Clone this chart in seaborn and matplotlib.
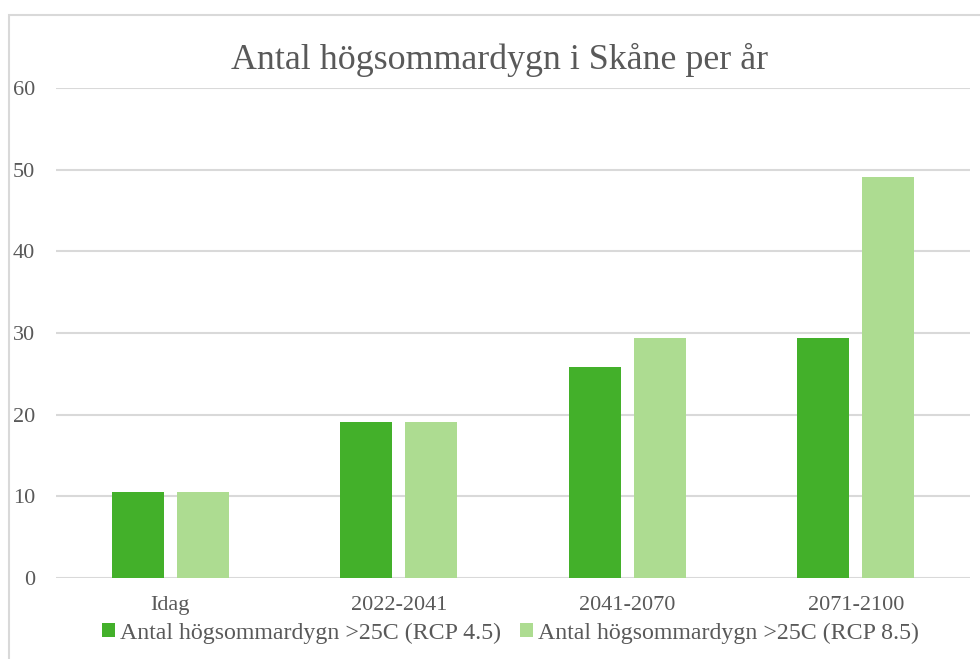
import matplotlib
matplotlib.use("Agg")
import matplotlib.pyplot as plt
import seaborn as sns
import pandas as pd
from matplotlib.patches import Rectangle

categories = ["Idag", "2022-2041", "2041-2070", "2071-2100"]
rcp45 = [10.5, 19.1, 25.8, 29.4]
rcp85 = [10.5, 19.1, 29.4, 49.1]
series_names = ["Antal högsommardygn >25C (RCP 4.5)", "Antal högsommardygn >25C (RCP 8.5)"]
yticks = [0, 10, 20, 30, 40, 50, 60]
title = "Antal högsommardygn i Skåne per år"

df = pd.DataFrame({
    "cat": categories * 2,
    "val": rcp45 + rcp85,
    "serie": [series_names[0]] * 4 + [series_names[1]] * 4,
})

sns.set_theme(style="white")
plt.rcParams["font.family"] = ["Liberation Serif", "DejaVu Serif"]
text_color = "#595959"
grid_color = "#D9D9D9"

W, H = 980, 659
fig = plt.figure(figsize=(W / 100, H / 100), dpi=100)
ax = fig.add_axes([56 / W, 1 - 578 / H, (970 - 56) / W, (578 - 88) / H])

sns.barplot(data=df, x="cat", y="val", hue="serie", order=categories,
            hue_order=series_names, palette=["#43B02A", "#ADDC91"],
            width=0.57, gap=0.2, ax=ax, legend=True, saturation=1,
            edgecolor="none")

ax.set_xlim(-0.5, 3.5)
ax.set_ylim(0, 60)
ax.set_yticks(yticks)
ax.set_yticklabels([str(t) for t in yticks])
ax.yaxis.grid(True, color=grid_color, linewidth=1.5)
ax.set_axisbelow(True)
for s in ax.spines.values():
    s.set_visible(False)
ax.tick_params(axis="y", length=0, pad=15, labelsize=16, labelcolor=text_color)
ax.tick_params(axis="x", length=0, pad=13, labelsize=16, labelcolor=text_color)
ax.set_xlabel("")
ax.set_ylabel("")

fig.text(500 / W, 1 - 60 / H, title, ha="center", va="center",
         fontsize=25.8, color=text_color)

leg = ax.legend(loc="center", bbox_to_anchor=(510 / W, 1 - 633 / H),
                bbox_transform=fig.transFigure, ncol=2, frameon=False,
                fontsize=17.2, handlelength=0.55, handleheight=0.55,
                handletextpad=0.2, columnspacing=0.8, borderaxespad=0)
for t in leg.get_texts():
    t.set_color(text_color)

fig.patches.append(Rectangle((9 / W, -0.1), 1.0, 1 - 15 / H + 0.1,
                             transform=fig.transFigure, fill=False,
                             edgecolor=grid_color, linewidth=1.5))

fig.savefig("out.png", dpi=100)
